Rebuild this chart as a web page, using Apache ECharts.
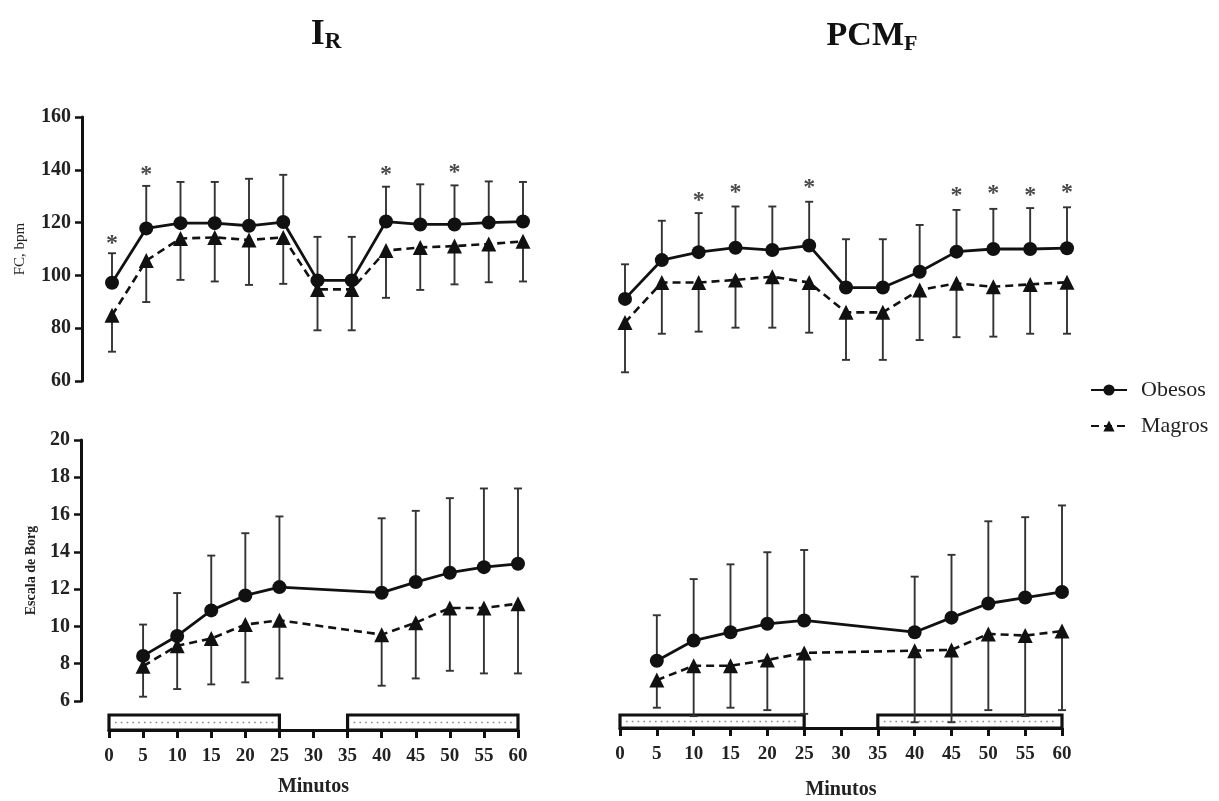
<!DOCTYPE html>
<html><head><meta charset="utf-8">
<script src="https://cdn.jsdelivr.net/npm/echarts@6/dist/echarts.min.js"></script>
<style>html,body{margin:0;padding:0;background:#fff}#c{width:1219px;height:801px}</style>
</head><body><div id="c"></div>
<script>
// ---- data ----
const fcMinutes = [0, 5, 10, 15, 20, 25, 30, 35, 40, 45, 50, 55, 60];
const borgMinutes = [5, 10, 15, 20, 25, 40, 45, 50, 55, 60];

// FC (bpm) - I_R
const fcIrObesos      = [97.2, 117.8, 119.8, 119.8, 118.8, 120.2, 98.1, 98.1, 120.4, 119.3, 119.3, 120.0, 120.4];
const fcIrObesosUpper = [108.4, 133.9, 135.4, 135.4, 136.6, 138.1, 114.6, 114.6, 133.6, 134.5, 134.1, 135.6, 135.4];
const fcIrMagros      = [84.9, 105.6, 114.0, 114.4, 113.4, 114.4, 94.7, 94.7, 109.4, 110.6, 111.1, 111.9, 112.9];
const fcIrMagrosLower = [71.1, 89.9, 98.3, 97.7, 96.4, 96.8, 79.2, 79.2, 91.5, 94.5, 96.6, 97.4, 97.7];
const fcIrStars       = [[0, 114.4], [5, 140.2], [40, 140.2], [50, 141.2]];

// FC (bpm) - PCM_F
const fcPcmObesos      = [91.1, 105.8, 108.8, 110.5, 109.6, 111.3, 95.4, 95.4, 101.4, 109.0, 110.0, 110.0, 110.3];
const fcPcmObesosUpper = [104.2, 120.7, 123.6, 126.1, 126.1, 127.9, 113.7, 113.7, 119.1, 124.8, 125.2, 125.5, 125.8];
const fcPcmMagros      = [82.2, 97.3, 97.3, 98.3, 99.5, 97.3, 86.0, 86.0, 94.5, 97.0, 95.7, 96.6, 97.4];
const fcPcmMagrosLower = [63.3, 77.9, 78.7, 80.2, 80.2, 78.3, 68.0, 68.0, 75.5, 76.6, 76.8, 77.9, 77.9];
const fcPcmStars       = [[10, 130.5], [15, 133.6], [25, 135.5], [45, 132.3], [50, 133.0], [55, 132.3], [60, 133.6]];

// Escala de Borg - I_R
const borgIrObesos      = [8.42, 9.49, 10.86, 11.66, 12.11, 11.81, 12.38, 12.88, 13.18, 13.36];
const borgIrObesosUpper = [10.1, 11.79, 13.8, 15.0, 15.9, 15.8, 16.2, 16.88, 17.4, 17.4];
const borgIrMagros      = [7.87, 8.96, 9.35, 10.1, 10.33, 9.56, 10.2, 10.99, 10.99, 11.22];
const borgIrMagrosLower = [6.23, 6.64, 6.89, 7.0, 7.21, 6.82, 7.21, 7.62, 7.48, 7.48];

// Escala de Borg - PCM_F
const borgPcmObesos      = [8.16, 9.24, 9.69, 10.14, 10.32, 9.69, 10.47, 11.23, 11.55, 11.85];
const borgPcmObesosUpper = [10.6, 12.54, 13.33, 13.98, 14.1, 12.67, 13.84, 15.64, 15.86, 16.49];
const borgPcmMagros      = [7.12, 7.89, 7.89, 8.2, 8.58, 8.7, 8.74, 9.6, 9.51, 9.75];
const borgPcmMagrosLower = [5.64, 5.19, 5.64, 5.51, 5.31, 4.86, 4.86, 5.51, 5.19, 5.51];

// exercise periods (boxes under x axis)
const exercisePeriods = [[0, 25], [35, 60]];
const minuteTicks = [0, 60, 5]; // min, max, interval
const fcTicks = [60, 160, 20];
const borgTicks = [6, 20, 2];
const seriesNames = ['Obesos', 'Magros'];

// ---- chart ----
const FONT = '"Liberation Serif", "Times New Roman", serif';
const INK = '#111';
const chart = echarts.init(document.getElementById('c'));

function lineSeries(name, xi, xs, ys, dashed) {
  return {
    type: 'line', name: name, xAxisIndex: xi, yAxisIndex: xi,
    data: xs.map((x, i) => [x, ys[i]]),
    symbol: dashed ? 'triangle' : 'circle', symbolSize: dashed ? 15 : 14,
    showAllSymbol: true,
    lineStyle: { color: INK, width: dashed ? 2.6 : 2.8, type: dashed ? [8, 5] : 'solid' },
    itemStyle: { color: INK }, z: 5, clip: false, silent: true
  };
}
function errSeries(xi, xs, means, ends) {
  return {
    type: 'custom', name: 'err', xAxisIndex: xi, yAxisIndex: xi, clip: false, silent: true, z: 4,
    data: xs.map((x, i) => [x, means[i], ends[i]]),
    encode: { x: 0, y: [1, 2] },
    renderItem: function (params, api) {
      const p1 = api.coord([api.value(0), api.value(1)]);
      const p2 = api.coord([api.value(0), api.value(2)]);
      const st = { stroke: '#333', lineWidth: 1.9 };
      return { type: 'group', children: [
        { type: 'line', shape: { x1: p1[0], y1: p1[1], x2: p2[0], y2: p2[1] }, style: st },
        { type: 'line', shape: { x1: p2[0] - 4, y1: p2[1], x2: p2[0] + 4, y2: p2[1] }, style: st }
      ] };
    }
  };
}
function starSeries(xi, pts) {
  return {
    type: 'scatter', name: 'stars', xAxisIndex: xi, yAxisIndex: xi, data: pts, silent: true,
    symbolSize: 0.1, itemStyle: { color: 'rgba(0,0,0,0)' }, z: 6,
    label: { show: true, formatter: '*', position: 'inside', fontSize: 24, fontWeight: 'bold', fontFamily: FONT,
             color: '#1a1a1a', offset: [0, 6] }
  };
}
function boxSeries(xi) {
  return {
    type: 'custom', name: 'box', xAxisIndex: xi, yAxisIndex: xi, clip: false, silent: true, z: 2,
    data: exercisePeriods, encode: { x: [0, 1] },
    renderItem: function (params, api) {
      const a = api.coord([api.value(0), 1]);
      const b = api.coord([api.value(1), 0]);
      const my = (a[1] + b[1]) / 2;
      return { type: 'group', children: [
        { type: 'rect', shape: { x: a[0], y: a[1], width: b[0] - a[0], height: b[1] - a[1] },
          style: { fill: '#fff', stroke: INK, lineWidth: 3.2 } },
        { type: 'line', shape: { x1: a[0] + 6, y1: my, x2: b[0] - 5, y2: my },
          style: { stroke: '#888', lineWidth: 1.6, lineDash: [1.6, 4.2] } }
      ] };
    }
  };
}

const grids = [
  { left: 112, top: 117, width: 411, height: 264 },   // 0 FC IR
  { left: 625, top: 117, width: 442, height: 264 },   // 1 FC PCM
  { left: 109, top: 440, width: 409, height: 261 },   // 2 Borg IR
  { left: 620, top: 440, width: 442, height: 261 },   // 3 Borg PCM
  { left: 109, top: 715, width: 409, height: 15 },    // 4 axis IR
  { left: 620, top: 715, width: 442, height: 15 }     // 5 axis PCM
];

function hiddenX(gi) {
  return { type: 'value', gridIndex: gi, min: minuteTicks[0], max: minuteTicks[1], show: false };
}
function shownX(gi, gap) {
  return {
    type: 'value', gridIndex: gi, min: minuteTicks[0], max: minuteTicks[1], interval: minuteTicks[2],
    name: 'Minutos', nameLocation: 'middle', nameGap: gap,
    nameTextStyle: { fontFamily: FONT, fontWeight: 'bold', fontSize: 20, color: '#222' },
    axisLine: { show: true, onZero: false, lineStyle: { color: INK, width: 3 } },
    axisTick: { show: true, length: 8, lineStyle: { color: INK, width: 3 } },
    axisLabel: { fontFamily: FONT, fontWeight: 'bold', fontSize: 19, color: '#222', margin: 17 },
    splitLine: { show: false }
  };
}
function shownY(gi, ticks, offset, name, nameGap, nameStyle) {
  return {
    type: 'value', gridIndex: gi, min: ticks[0], max: ticks[1], interval: ticks[2], offset: offset,
    name: name, nameLocation: 'middle', nameGap: nameGap, nameRotate: 90,
    nameTextStyle: Object.assign({ fontFamily: FONT, color: '#222' }, nameStyle),
    axisLine: { show: true, onZero: false, lineStyle: { color: INK, width: 3 } },
    axisTick: { show: true, length: 7, lineStyle: { color: INK, width: 2.5 } },
    axisLabel: { fontFamily: FONT, fontWeight: 'bold', fontSize: 20, color: '#222', margin: 11 },
    splitLine: { show: false }
  };
}
function hiddenY(gi, ticks) {
  return { type: 'value', gridIndex: gi, min: ticks[0], max: ticks[1], interval: ticks[2], show: false, splitLine: { show: false } };
}

const option = {
  animation: false,
  backgroundColor: '#fff',
  grid: grids,
  xAxis: [hiddenX(0), hiddenX(1), hiddenX(2), hiddenX(3), shownX(4, 47), shownX(5, 52)],
  yAxis: [
    shownY(0, fcTicks, 30, 'FC, bpm', 54, { fontSize: 15 }),
    hiddenY(1, fcTicks),
    shownY(2, borgTicks, 28, 'Escala de Borg', 43, { fontSize: 14, fontWeight: 'bold' }),
    hiddenY(3, borgTicks),
    { type: 'value', gridIndex: 4, min: 0, max: 1, show: false },
    { type: 'value', gridIndex: 5, min: 0, max: 1, show: false }
  ],
  legend: {
    data: seriesNames, orient: 'vertical', left: 1085, top: 374, itemGap: 14,
    itemWidth: 36, itemHeight: 14,
    textStyle: { fontFamily: FONT, fontSize: 22, color: '#222', padding: [0, 0, 0, 9] }
  },
  graphic: [
    { type: 'text', x: 326, y: 35, style: { text: '{m|I}{s|R}', textAlign: 'center', textVerticalAlign: 'middle',
      rich: { m: { fontFamily: FONT, fontWeight: 'bold', fontSize: 36, lineHeight: 38, fill: '#111' },
              s: { fontFamily: FONT, fontWeight: 'bold', fontSize: 23, lineHeight: 18, verticalAlign: 'bottom', fill: '#111' } } } },
    { type: 'text', x: 872, y: 36, style: { text: '{m|PCM}{s|F}', textAlign: 'center', textVerticalAlign: 'middle',
      rich: { m: { fontFamily: FONT, fontWeight: 'bold', fontSize: 34, lineHeight: 38, fill: '#111' },
              s: { fontFamily: FONT, fontWeight: 'bold', fontSize: 22, lineHeight: 18, verticalAlign: 'bottom', fill: '#111' } } } }
  ],
  series: [
    lineSeries(seriesNames[0], 0, fcMinutes, fcIrObesos, false),
    lineSeries(seriesNames[1], 0, fcMinutes, fcIrMagros, true),
    errSeries(0, fcMinutes, fcIrObesos, fcIrObesosUpper),
    errSeries(0, fcMinutes, fcIrMagros, fcIrMagrosLower),
    starSeries(0, fcIrStars),

    lineSeries(seriesNames[0], 1, fcMinutes, fcPcmObesos, false),
    lineSeries(seriesNames[1], 1, fcMinutes, fcPcmMagros, true),
    errSeries(1, fcMinutes, fcPcmObesos, fcPcmObesosUpper),
    errSeries(1, fcMinutes, fcPcmMagros, fcPcmMagrosLower),
    starSeries(1, fcPcmStars),

    lineSeries(seriesNames[0], 2, borgMinutes, borgIrObesos, false),
    lineSeries(seriesNames[1], 2, borgMinutes, borgIrMagros, true),
    errSeries(2, borgMinutes, borgIrObesos, borgIrObesosUpper),
    errSeries(2, borgMinutes, borgIrMagros, borgIrMagrosLower),

    lineSeries(seriesNames[0], 3, borgMinutes, borgPcmObesos, false),
    lineSeries(seriesNames[1], 3, borgMinutes, borgPcmMagros, true),
    errSeries(3, borgMinutes, borgPcmObesos, borgPcmObesosUpper),
    errSeries(3, borgMinutes, borgPcmMagros, borgPcmMagrosLower),

    boxSeries(4),
    boxSeries(5)
  ]
};
chart.setOption(option);
</script>
</body></html>
